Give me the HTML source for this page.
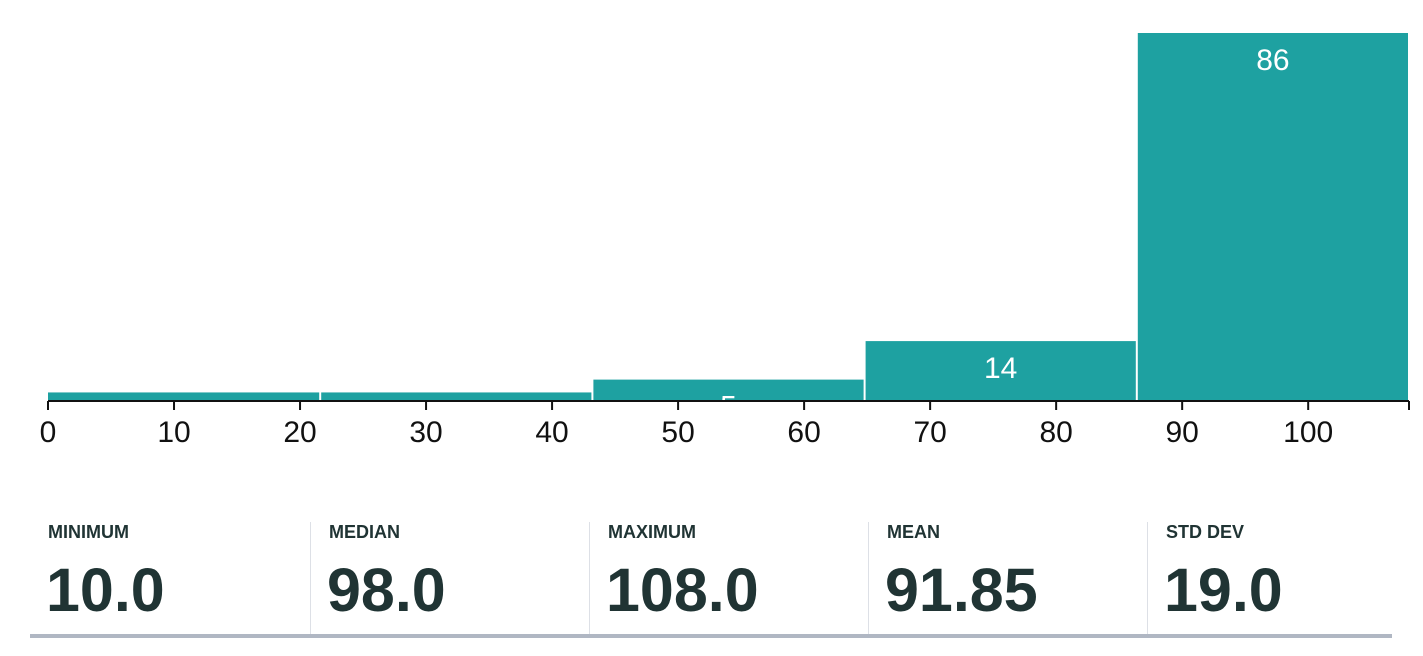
<!DOCTYPE html>
<html><head><meta charset="utf-8"><style>
body{margin:0;background:#fff;font-family:"Liberation Sans",sans-serif;width:1423px;height:656px;overflow:hidden;position:relative}
.stat{position:absolute;top:520px;height:115px;color:#203434}
.stat .lab{position:absolute;left:18px;top:2px;font-size:18px;font-weight:bold;white-space:nowrap}
.stat .val{position:absolute;left:16px;top:35px;font-size:61px;font-weight:bold;white-space:nowrap}
.div{position:absolute;top:522px;width:1px;height:113px;background:#dde0e6}
</style></head><body>
<svg id="chart" width="1423" height="470" style="position:absolute;left:0;top:0">
<defs><clipPath id="plotclip"><rect x="0" y="0" width="1423" height="401"/></clipPath></defs>
<g id="bars" clip-path="url(#plotclip)"></g>
<g id="axis"></g>
</svg>
<div class="stat" style="left:30px"><div class="lab">MINIMUM</div><div class="val">10.0</div></div>
<div class="div" style="left:310px"></div>
<div class="stat" style="left:311px"><div class="lab">MEDIAN</div><div class="val">98.0</div></div>
<div class="div" style="left:589px"></div>
<div class="stat" style="left:590px"><div class="lab">MAXIMUM</div><div class="val">108.0</div></div>
<div class="div" style="left:868px"></div>
<div class="stat" style="left:869px"><div class="lab">MEAN</div><div class="val">91.85</div></div>
<div class="div" style="left:1147px"></div>
<div class="stat" style="left:1148px"><div class="lab">STD DEV</div><div class="val">19.0</div></div>
<div style="position:absolute;left:30px;top:634px;width:1362px;height:4px;background:#b0b7c3"></div>
<script>
const binEdges=[0,21.6,43.2,64.8,86.4,108];
const counts=[2,2,5,14,86];
const ticks=[0,10,20,30,40,50,60,70,80,90,100];
const NS="http://www.w3.org/2000/svg";
const plotX0=48,plotX1=1409,dMax=108,baseY=401,topY=33,cMax=86;
const X=v=>plotX0+(v/dMax)*(plotX1-plotX0);
const Y=c=>baseY-(c/cMax)*(baseY-topY);
const barsG=document.getElementById('bars'),axisG=document.getElementById('axis');
function mk(t,a,p){const e=document.createElementNS(NS,t);for(const k in a)e.setAttribute(k,a[k]);p.appendChild(e);return e;}
counts.forEach((c,i)=>{
 const xa=X(binEdges[i])+(i?1:0),xb=X(binEdges[i+1])-1;
 const r=mk('rect',{x:xa,y:Y(c),width:xb-xa,height:baseY-Y(c),fill:'#1ea1a1'},barsG);
 
 
 const t=mk('text',{x:(xa+xb)/2,y:Y(c)+37,'text-anchor':'middle','font-size':'30',fill:'#fff','font-family':'Liberation Sans, sans-serif'},barsG);
 t.textContent=c;
 
 
});
const al=mk('line',{x1:plotX0,x2:plotX1,y1:baseY,y2:baseY,stroke:'#111','stroke-width':2},axisG);


mk('line',{x1:plotX1,x2:plotX1,y1:baseY,y2:baseY+9,stroke:'#111','stroke-width':2},axisG);
ticks.forEach(v=>{
 mk('line',{x1:X(v),x2:X(v),y1:baseY,y2:baseY+9,stroke:'#111','stroke-width':2},axisG);
 const t=mk('text',{x:X(v),y:442,'text-anchor':'middle','font-size':'30',fill:'#111','font-family':'Liberation Sans, sans-serif'},axisG);
 t.textContent=v;
 
 
});
</script>
</body></html>
